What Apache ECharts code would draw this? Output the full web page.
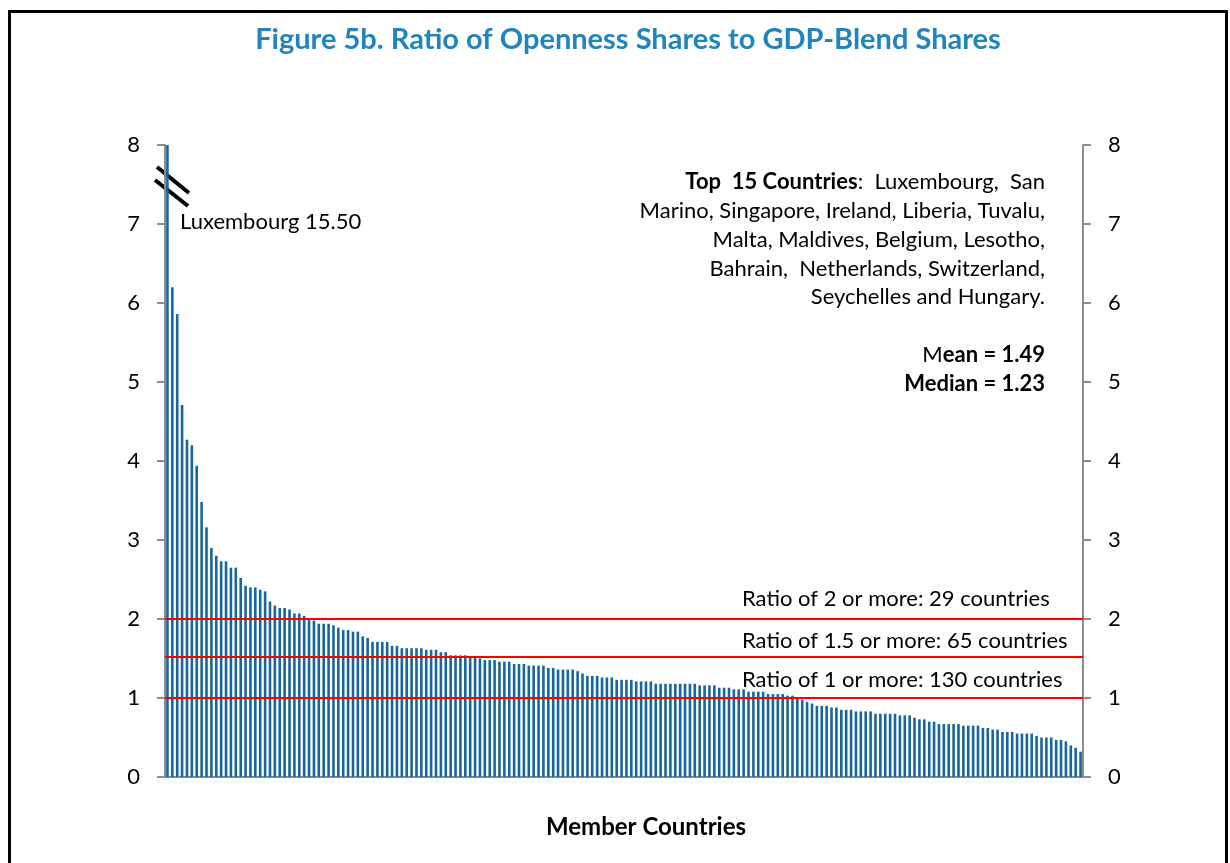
<!DOCTYPE html>
<html>
<head>
<meta charset="utf-8">
<script src="https://cdn.jsdelivr.net/npm/echarts@6/dist/echarts.min.js"></script>
<style>
  html, body { margin: 0; padding: 0; background: #fff; }
  #chart { width: 1230px; height: 863px; }
</style>
</head>
<body>
<div id="chart"></div>
<script>
// ---- Data ----
const chartTitle = 'Figure 5b. Ratio of Openness Shares to GDP-Blend Shares';
const xAxisTitle = 'Member Countries';
const yTicks = [0, 1, 2, 3, 4, 5, 6, 7, 8];

// Ratio of openness share to GDP-blend share, 188 member countries, sorted descending
const ratios = [
  15.50, 6.20, 5.86, 4.71, 4.27, 4.20, 3.94, 3.48, 3.16, 2.90,
  2.80, 2.73, 2.73, 2.65, 2.65, 2.52, 2.42, 2.40, 2.40, 2.37,
  2.35, 2.22, 2.17, 2.14, 2.14, 2.12, 2.07, 2.07, 2.04, 1.99,
  1.98, 1.94, 1.94, 1.94, 1.92, 1.89, 1.86, 1.86, 1.84, 1.84,
  1.78, 1.76, 1.71, 1.71, 1.71, 1.71, 1.66, 1.66, 1.63, 1.63,
  1.63, 1.63, 1.63, 1.61, 1.61, 1.61, 1.58, 1.58, 1.54, 1.54,
  1.54, 1.54, 1.53, 1.52, 1.50, 1.48, 1.48, 1.48, 1.46, 1.46,
  1.46, 1.43, 1.43, 1.43, 1.41, 1.41, 1.41, 1.41, 1.38, 1.38,
  1.36, 1.36, 1.36, 1.36, 1.34, 1.31, 1.28, 1.28, 1.28, 1.26,
  1.26, 1.26, 1.23, 1.23, 1.23, 1.23, 1.21, 1.21, 1.21, 1.21,
  1.18, 1.18, 1.18, 1.18, 1.18, 1.18, 1.18, 1.18, 1.18, 1.16,
  1.16, 1.16, 1.16, 1.13, 1.13, 1.13, 1.11, 1.11, 1.11, 1.08,
  1.08, 1.08, 1.08, 1.05, 1.05, 1.05, 1.05, 1.03, 1.03, 1.00,
  0.98, 0.95, 0.93, 0.90, 0.90, 0.90, 0.88, 0.88, 0.85, 0.85,
  0.85, 0.83, 0.83, 0.83, 0.83, 0.80, 0.80, 0.80, 0.80, 0.80,
  0.78, 0.78, 0.78, 0.75, 0.73, 0.73, 0.70, 0.70, 0.67, 0.67,
  0.67, 0.67, 0.67, 0.65, 0.65, 0.65, 0.65, 0.62, 0.62, 0.60,
  0.60, 0.57, 0.57, 0.57, 0.55, 0.55, 0.55, 0.55, 0.52, 0.50,
  0.50, 0.50, 0.47, 0.47, 0.45, 0.40, 0.37, 0.32
];
const countries = ratios.map((_, i) => 'Country ' + (i + 1));

// Threshold lines and their notes
const thresholds = [2, 1.52, 1];
const thresholdNotes = [
  'Ratio of 2 or more: 29 countries',
  'Ratio of 1.5 or more: 65 countries',
  'Ratio of 1 or more: 130 countries'
];
const topNote = 'Luxembourg 15.50';
const top15Lines = [
  '{b|Top  15 Countries}{n|:  Luxembourg,  San}',
  '{n|Marino, Singapore, Ireland, Liberia, Tuvalu,}',
  '{n|Malta, Maldives, Belgium, Lesotho,}',
  '{n|Bahrain,  Netherlands, Switzerland,}',
  '{n|Seychelles and Hungary.}'
];
const statLines = ['{n|M}{b|ean = 1.49}', '{b|Median = 1.23}'];

// ---- Chart ----
const FONT = 'Lato, "Open Sans", sans-serif';
const AXIS_GRAY = '#8c8c8c';
const chart = echarts.init(document.getElementById('chart'), null, { renderer: 'canvas' });

const richStyles = {
  n: { fontFamily: FONT, fontSize: 22, color: '#000', fontWeight: 'normal' },
  b: { fontFamily: FONT, fontSize: 22, color: '#000', fontWeight: 'bold' }
};

const graphics = [
  // outer frame
  { type: 'rect', left: 7, top: 9, shape: { width: 1217, height: 870 }, style: { fill: 'none', stroke: '#000', lineWidth: 3 }, silent: true },
  // axis break marks
  { type: 'line', shape: { x1: 157, y1: 167, x2: 189, y2: 193 }, style: { stroke: '#000', lineWidth: 4 }, silent: true },
  { type: 'line', shape: { x1: 155, y1: 180, x2: 188, y2: 206 }, style: { stroke: '#000', lineWidth: 4 }, silent: true },
  // Luxembourg note
  { type: 'text', x: 180, y: 222, style: { text: topNote, font: '22px ' + FONT, fill: '#000', textAlign: 'left', textVerticalAlign: 'middle' } }
];
const top15Y = [182, 211, 240, 269, 297];
top15Lines.forEach((l, i) => {
  graphics.push({ type: 'text', x: 1045, y: top15Y[i], style: { text: l, rich: richStyles, textAlign: 'right', textVerticalAlign: 'middle' } });
});
const statY = [355, 384];
statLines.forEach((l, i) => {
  graphics.push({ type: 'text', x: 1045, y: statY[i], style: { text: l, rich: richStyles, textAlign: 'right', textVerticalAlign: 'middle' } });
});
const noteY = [599, 641, 680];
thresholdNotes.forEach((t, i) => {
  graphics.push({ type: 'text', x: 742, y: noteY[i], style: { text: t, font: '22px ' + FONT, fill: '#000', textAlign: 'left', textVerticalAlign: 'middle' } });
});

const yAxisBase = {
  type: 'value', min: 0, max: 8, interval: 1,
  axisLine: { show: true, lineStyle: { color: AXIS_GRAY, width: 2 } },
  axisTick: { show: true, length: 8, lineStyle: { color: AXIS_GRAY, width: 2 } },
  axisLabel: { color: '#000', fontSize: 22, fontFamily: FONT, margin: 25,
    formatter: v => (yTicks.indexOf(v) >= 0 ? String(v) : '') },
  splitLine: { show: false }
};

chart.setOption({
  animation: false,
  backgroundColor: '#fff',
  title: {
    text: chartTitle, left: 623, top: 20, textAlign: 'center',
    textStyle: { fontFamily: FONT, fontSize: 29, fontWeight: 'bold', color: '#1f86bd' }
  },
  grid: { left: 165, right: 147, top: 145, bottom: 86, containLabel: false },
  xAxis: [
    {
      type: 'category', data: countries, position: 'bottom',
      axisLine: { show: true, lineStyle: { color: AXIS_GRAY, width: 2 } },
      axisTick: { show: false }, axisLabel: { show: false },
      name: xAxisTitle, nameLocation: 'middle', nameGap: 38,
      nameTextStyle: { fontFamily: FONT, fontSize: 24, fontWeight: 'bold', color: '#000', padding: [0, 0, 0, 44] }
    },
    {
      type: 'category', data: countries, position: 'top',
      axisLine: { show: true, lineStyle: { color: AXIS_GRAY, width: 2 } },
      axisTick: { show: false }, axisLabel: { show: false }
    }
  ],
  yAxis: [
    Object.assign({}, yAxisBase, { position: 'left' }),
    Object.assign({}, yAxisBase, { position: 'right' })
  ],
  series: [{
    type: 'bar', data: ratios, xAxisIndex: 0, yAxisIndex: 0,
    barWidth: 2.6, clip: true,
    itemStyle: { color: '#17679f' },
    markLine: {
      silent: true, symbol: 'none',
      lineStyle: { color: '#ff0000', width: 2, type: 'solid' },
      label: { show: false },
      data: thresholds.map(v => ({ yAxis: v }))
    }
  }],
  graphic: graphics
});
</script>
</body>
</html>
